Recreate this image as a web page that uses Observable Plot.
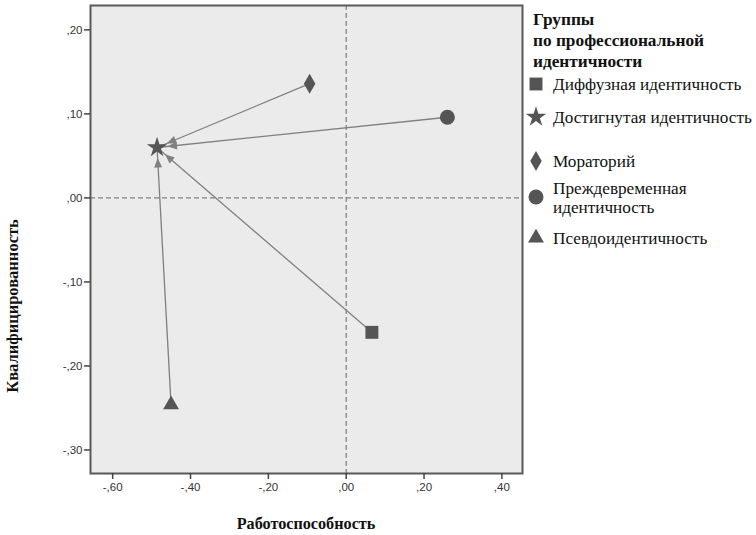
<!DOCTYPE html>
<html><head><meta charset="utf-8">
<script src="https://cdn.jsdelivr.net/npm/d3@7"></script>
<script src="https://cdn.jsdelivr.net/npm/@observablehq/plot@0.6"></script>
<style>
body{margin:0;background:#fff;}
#wrap{position:relative;width:756px;height:535px;}
#overlay{position:absolute;left:0;top:0;pointer-events:none;}
</style></head><body><div id="wrap"></div>
<script>
// ---- data ----
const groups = ["Диффузная идентичность","Достигнутая идентичность","Мораторий","Преждевременная идентичность","Псевдоидентичность"];
const work = [0.066, -0.486, -0.094, 0.260, -0.450];   // Работоспособность
const qual = [-0.160, 0.060, 0.136, 0.096, -0.246];    // Квалифицированность
const target = "Достигнутая идентичность";
const xTicks = [-0.6, -0.4, -0.2, 0, 0.2, 0.4];
const yTicks = [-0.3, -0.2, -0.1, 0, 0.1, 0.2];
const legendTitle = ["Группы", "по профессиональной", "идентичности"];
const legendLabels = [["Диффузная идентичность"], ["Достигнутая идентичность"], ["Мораторий"], ["Преждевременная", "идентичность"], ["Псевдоидентичность"]];
const xLabel = "Работоспособность";
const yLabel = "Квалифицированность";

// ---- styles ----
const symbolNames = ["square", "star", "diamond", "circle", "triangle"];
const symbolR = [7.3, 6.4, 6.06, 7.5, 5.9];
const markColor = "#555";
const serif = "'Liberation Serif', 'Times New Roman', serif";

const fmt = d => (d < 0 ? "-" : "") + d3.format(".2f")(Math.abs(d)).replace(/^0\./, ",");

const points = groups.map((g, i) => ({group: g, x: work[i], y: qual[i]}));
const star = points.find(p => p.group === target);
const links = points.filter(p => p.group !== target).map(p => ({x1: p.x, y1: p.y, x2: star.x, y2: star.y}));

function filledArrow(color, context) {
  const doc = context && context.document ? context.document : document;
  const ns = "http://www.w3.org/2000/svg";
  const m = doc.createElementNS(ns, "marker");
  m.setAttribute("viewBox", "0 -6 22 12");
  m.setAttribute("markerWidth", "22");
  m.setAttribute("markerHeight", "12");
  m.setAttribute("markerUnits", "userSpaceOnUse");
  m.setAttribute("refX", "20");
  m.setAttribute("refY", "0");
  m.setAttribute("orient", "auto");
  m.setAttribute("overflow", "visible");
  const p = doc.createElementNS(ns, "path");
  p.setAttribute("d", "M0,-4L9.5,0L0,4Z");
  p.setAttribute("fill", color);
  p.setAttribute("stroke", "none");
  m.appendChild(p);
  return m;
}

const dots = points.map((p, i) => Plot.dot([p], {x: "x", y: "y", symbol: symbolNames[i], r: symbolR[i], fill: markColor, stroke: "none"}));

const chart = Plot.plot({
  width: 756, height: 535,
  marginLeft: 90, marginRight: 234, marginTop: 5, marginBottom: 62,
  x: {domain: [-0.657, 0.453]},
  y: {domain: [-0.328, 0.229]},
  style: {fontFamily: "'Liberation Sans', Arial, sans-serif", fontSize: "11.5px", color: "#333", background: "#fff"},
  marks: [
    Plot.frame({fill: "#ebebeb", stroke: "none"}),
    Plot.ruleX([0], {stroke: "#666", strokeDasharray: "5,3", strokeWidth: 1}),
    Plot.ruleY([0], {stroke: "#666", strokeDasharray: "5,3", strokeWidth: 1}),
    Plot.link(links, {x1: "x1", y1: "y1", x2: "x2", y2: "y2", stroke: "#808080", strokeWidth: 1.3, markerEnd: filledArrow}),
    ...dots,
    Plot.frame({stroke: "#595959", strokeWidth: 2}),
    Plot.axisX({ticks: xTicks, tickFormat: fmt, tickSize: 6, tickPadding: 3, label: null, stroke: "#444", strokeWidth: 1.5}),
    Plot.axisY({ticks: yTicks, tickFormat: fmt, tickSize: 6, tickPadding: 2, label: null, stroke: "#444", strokeWidth: 1.5})
  ]
});
const wrap = document.getElementById("wrap");
wrap.appendChild(chart);

// ---- overlay: axis titles + legend ----
const ov = d3.select(wrap).append("svg").attr("id", "overlay").attr("width", 756).attr("height", 535)
  .style("font-family", serif);
ov.append("text").attr("x", 306).attr("y", 523).attr("dy", "0.35em").attr("text-anchor", "middle")
  .attr("font-weight", "bold").attr("font-size", 16.2).attr("fill", "#111").text(xLabel);
ov.append("text").attr("transform", "translate(12.5,306) rotate(-90)").attr("dy", "0.35em").attr("text-anchor", "middle")
  .attr("font-weight", "bold").attr("font-size", 16.5).attr("fill", "#111").text(yLabel);

const lg = ov.append("g").attr("transform", "translate(520,0)").attr("font-size", 17.2);
const titleY = [25, 46, 67];
legendTitle.forEach((t, i) => lg.append("text").attr("x", 13).attr("y", titleY[i]).attr("font-weight", "bold").attr("font-size", 17.3).attr("fill", "#111").text(t));
const itemY = [84, 117, 161, 197, 238];
const symMap = {square: d3.symbolSquare, star: d3.symbolStar, diamond: d3.symbolDiamond, circle: d3.symbolCircle, triangle: d3.symbolTriangle};
groups.forEach((g, i) => {
  const r = symbolR[i];
  lg.append("path").attr("transform", `translate(16,${itemY[i]})`)
    .attr("d", d3.symbol(symMap[symbolNames[i]], Math.PI * r * r)()).attr("fill", markColor);
  const lines = legendLabels[i];
  lines.forEach((l, j) => {
    const y = itemY[i] + (j - (lines.length - 1) / 2) * 19;
    lg.append("text").attr("x", 33).attr("y", y).attr("dy", "0.35em").attr("fill", "#111").text(l);
  });
});
</script>
</body></html>
